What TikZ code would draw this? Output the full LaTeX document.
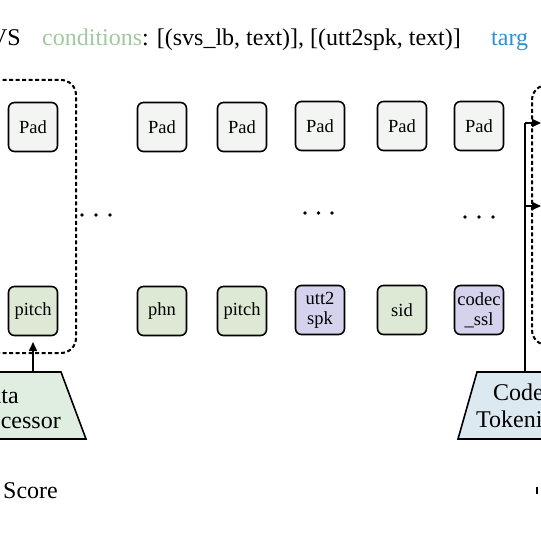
\documentclass[tikz,border=0pt]{standalone}
\usepackage{fontspec}
\setmainfont{Liberation Serif}
\usetikzlibrary{arrows.meta}
\definecolor{padfill}{HTML}{F3F5F3}
\definecolor{condfill}{HTML}{DDE8D5}
\definecolor{spkfill}{HTML}{D4D2EC}
\definecolor{procfill}{HTML}{DFEEE0}
\definecolor{codecfill}{HTML}{DCE9F0}
\definecolor{condgreen}{HTML}{9FCB9C}
\definecolor{targblue}{HTML}{2A92D6}
\begin{document}
\begin{tikzpicture}[x=1pt,y=-1pt,
  tok/.style={draw, line width=1.6pt, rounded corners=6pt, minimum width=49pt, minimum height=49pt,
    inner sep=0pt, align=center, font=\fontsize{18.5}{20}\selectfont},
  padtok/.style={tok, fill=padfill},
  condtok/.style={tok, fill=condfill},
  spktok/.style={tok, fill=spkfill},
  dbox/.style={line width=2pt, dash pattern=on 4pt off 2.5pt, rounded corners=15pt},
  conn/.style={line width=1.6pt},
  arr/.style={line width=1.6pt, -{Triangle[length=9pt,width=8pt]}},
  big/.style={inner sep=0pt, font=\fontsize{24}{26}\selectfont},
  trap/.style={line width=1.6pt, draw}
]
\useasboundingbox (0,0) rectangle (540,540);
\fill[white] (0,0) rectangle (540,540);

% header
\node[big, anchor=base east] (hvs) at (21,46) {VS};
\node[big, anchor=base west] (hcond) at (42,46) {\textcolor{condgreen}{conditions}: [(svs\_lb, text)], [(utt2spk, text)]};
\node[big, anchor=base west, text=targblue] (htarg) at (491,46) {targ};

% dashed group boxes
\draw[dbox] (-30,80) -- (76,80) -- (76,353) -- (-30,353);
\draw[dbox] (560,85) -- (532,85) -- (532,345) -- (560,345);

% token columns
\node[padtok] (p1) at (33,127) {Pad};
\node[condtok] (c1) at (33,311) {pitch};
\node[padtok] (p2) at (162,127) {Pad};
\node[condtok] (c2) at (162,311) {phn};
\node[padtok] (p3) at (242,127) {Pad};
\node[condtok] (c3) at (242,311) {pitch};
\node[padtok] (p4) at (320,126) {Pad};
\node[spktok] (c4) at (320,310) {utt2\\spk};
\node[padtok] (p5) at (402,126) {Pad};
\node[condtok] (c5) at (402,310) {sid};
\node[padtok] (p6) at (479,126) {Pad};
\node[spktok] (c6) at (479,310) {codec\\\_ssl};

% ellipses
\foreach \cx/\cy in {82/215, 96/215, 110/215, 305/213, 318.5/213, 332/213, 465/217, 479/217, 493/217}
  \fill (\cx,\cy) circle (1.8pt);

% Data Processor
\draw[trap, fill=procfill] (-40,372) -- (61,372) -- (86,439) -- (-40,439);
\node[big, anchor=base east] (dp1) at (19,403) {Data};
\node[big, anchor=base east] (dp2) at (61,428) {Processor};
\coordinate (dptop) at (33,372);
\draw[arr] (dptop) -- (33,342);

% Codec Tokenizer
\draw[trap, fill=codecfill] (600,372) -- (477,372) -- (458,439) -- (600,439);
\node[big, anchor=base west] (ct1) at (493,400) {Codec};
\node[big, anchor=base west] (ct2) at (476,427) {Tokenizer};
\coordinate (cttop) at (525,372);
\coordinate (bend1) at (525,123);
\coordinate (bend2) at (525,206);
\coordinate (tgt1) at (541,123);
\coordinate (tgt2) at (541,206);
\draw[conn] (cttop) -- (bend1);
\draw[arr] (bend1) -- (tgt1);
\draw[arr] (bend2) -- (tgt2);

% Score
\node[big, anchor=base west] (score) at (3,498) {Score};
\coordinate (tk1) at (537,487);
\coordinate (tk2) at (537,494);
\draw[line width=1.5pt] (tk1) -- (tk2);
\end{tikzpicture}
\end{document}
